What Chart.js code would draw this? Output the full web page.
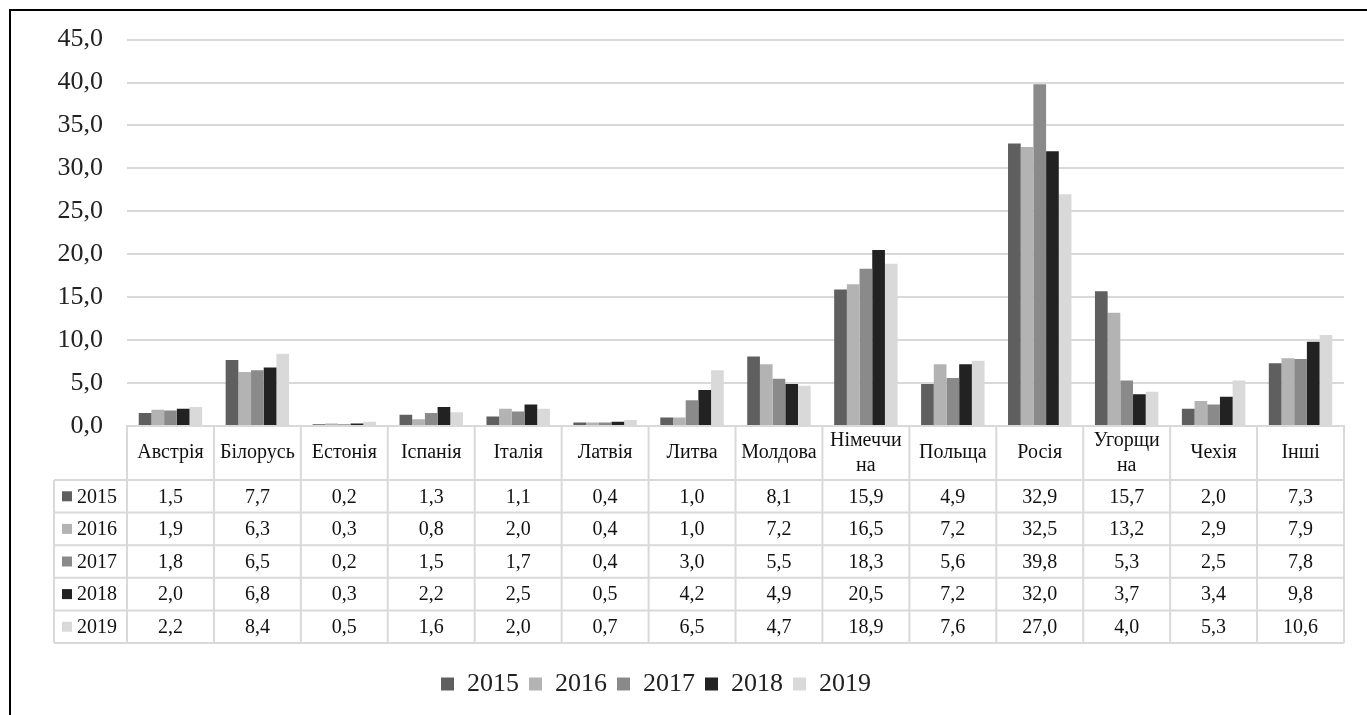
<!DOCTYPE html>
<html>
<head>
<meta charset="utf-8">
<script src="https://cdn.jsdelivr.net/npm/chart.js@4"></script>
<style>
  html, body { margin: 0; padding: 0; background: #fff; }
  #wrap { width: 1367px; height: 715px; position: relative; }
</style>
</head>
<body>
<div id="wrap"><canvas id="myChart"></canvas></div>
<script>
const categories = ["Австрія", "Білорусь", "Естонія", "Іспанія", "Італія", "Латвія", "Литва",
  "Молдова", ["Німеччи", "на"], "Польща", "Росія", ["Угорщи", "на"], "Чехія", "Інші"];
const years = ["2015", "2016", "2017", "2018", "2019"];
const v2015 = [1.5, 7.7, 0.2, 1.3, 1.1, 0.4, 1.0, 8.1, 15.9, 4.9, 32.9, 15.7, 2.0, 7.3];
const v2016 = [1.9, 6.3, 0.3, 0.8, 2.0, 0.4, 1.0, 7.2, 16.5, 7.2, 32.5, 13.2, 2.9, 7.9];
const v2017 = [1.8, 6.5, 0.2, 1.5, 1.7, 0.4, 3.0, 5.5, 18.3, 5.6, 39.8, 5.3, 2.5, 7.8];
const v2018 = [2.0, 6.8, 0.3, 2.2, 2.5, 0.5, 4.2, 4.9, 20.5, 7.2, 32.0, 3.7, 3.4, 9.8];
const v2019 = [2.2, 8.4, 0.5, 1.6, 2.0, 0.7, 6.5, 4.7, 18.9, 7.6, 27.0, 4.0, 5.3, 10.6];
const yMax = 45;
const yStep = 5;

const series = [v2015, v2016, v2017, v2018, v2019];
const colors = ["#5f5f5f", "#b3b3b3", "#8a8a8a", "#222222", "#d9d9d9"];
const serif = "'Liberation Serif', 'Times New Roman', serif";
const lineColor = "#d9d9d9";

const fmt = (v) => v.toFixed(1).replace(".", ",");

// data table under the bars + outer frame
const tablePlugin = {
  id: "dataTable",
  afterLayout(chart) {
    // legend in the original sits a bit left of centre
    chart.legend.left -= 26;
    chart.legend.right -= 26;
  },
  afterDraw(chart) {
    const ctx = chart.ctx;
    const x = chart.scales.x;
    const area = chart.chartArea;
    const top = area.bottom;
    const headerH = 54;
    const rowH = 32.6;
    const legendLeft = 54;
    const n = categories.length;
    const colW = (area.right - area.left) / n;
    const bottom = top + headerH + rowH * years.length;

    ctx.save();
    ctx.strokeStyle = lineColor;
    ctx.lineWidth = 2;
    ctx.beginPath();
    for (let i = 0; i <= n; i++) {
      const px = area.left + i * colW;
      ctx.moveTo(px, top);
      ctx.lineTo(px, bottom);
    }
    ctx.moveTo(legendLeft, top + headerH);
    ctx.lineTo(legendLeft, bottom);
    for (let r = 0; r <= years.length; r++) {
      const py = top + headerH + r * rowH;
      ctx.moveTo(legendLeft, py);
      ctx.lineTo(area.right, py);
    }
    ctx.stroke();

    ctx.fillStyle = "#111";
    ctx.font = "20px " + serif;
    ctx.textAlign = "center";
    ctx.textBaseline = "middle";
    categories.forEach((c, i) => {
      const cx = x.getPixelForValue(i);
      if (Array.isArray(c)) {
        ctx.fillText(c[0], cx, top + headerH / 2 - 12);
        ctx.fillText(c[1], cx, top + headerH / 2 + 13);
      } else {
        ctx.fillText(c, cx, top + headerH / 2);
      }
    });

    years.forEach((y, r) => {
      const cy = top + headerH + r * rowH + rowH / 2;
      ctx.fillStyle = colors[r];
      ctx.fillRect(legendLeft + 8, cy - 5, 10, 10);
      ctx.fillStyle = "#111";
      ctx.textAlign = "left";
      ctx.fillText(y, legendLeft + 23, cy + 1);
      ctx.textAlign = "center";
      series[r].forEach((v, i) => {
        ctx.fillText(fmt(v), x.getPixelForValue(i), cy + 1);
      });
    });

    ctx.strokeStyle = "#000";
    ctx.lineWidth = 2;
    ctx.strokeRect(10, 10, 1420, 800);
    ctx.restore();
  }
};

const data = {
  labels: categories,
  datasets: years.map((y, i) => ({
    label: y,
    data: series[i],
    backgroundColor: colors[i],
    borderWidth: 0,
    categoryPercentage: 0.73,
    barPercentage: 1.0,
  })),
};

const config = {
  type: "bar",
  data,
  options: {
    responsive: true,
    maintainAspectRatio: false,
    animation: false,
    layout: { padding: { top: 39, left: 20, right: 23, bottom: 8 } },
    scales: {
      x: {
        grid: { display: false },
        border: { color: lineColor, width: 2 },
        ticks: { display: false },
        afterFit(scale) { scale.height = 235; },
      },
      y: {
        min: 0,
        max: yMax,
        grid: { color: lineColor, lineWidth: 2, drawTicks: false },
        border: { display: false },
        ticks: {
          stepSize: yStep,
          padding: 24,
          color: "#222",
          font: { family: serif, size: 26 },
          callback: (v) => fmt(v),
        },
        afterFit(scale) { scale.width = 107; },
      },
    },
    plugins: {
      tooltip: { enabled: false },
      legend: {
        position: "bottom",
        labels: {
          boxWidth: 13,
          boxHeight: 13,
          padding: 10,
          color: "#222",
          font: { family: serif, size: 26 },
        },
      },
    },
  },
  plugins: [tablePlugin],
};

const myChart = new Chart(document.getElementById("myChart"), config);
</script>
</body>
</html>
